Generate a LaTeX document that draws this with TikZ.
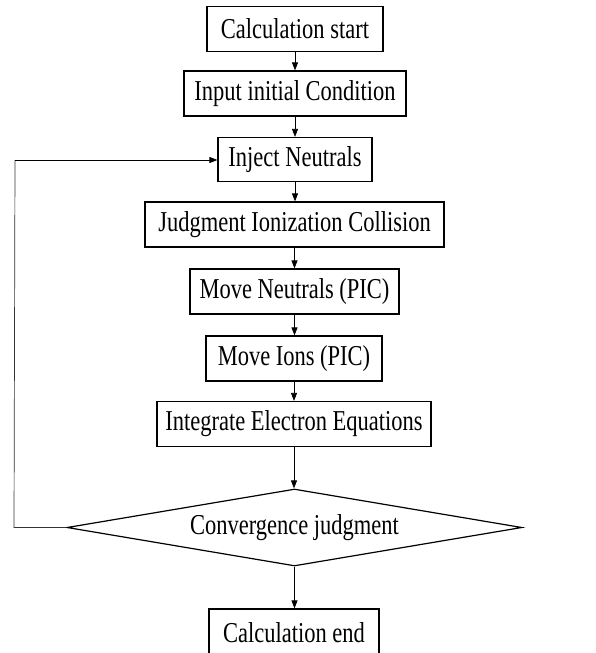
\documentclass[tikz,border=0pt]{standalone}
\usepackage{fontspec}
\setmainfont{Liberation Serif}
\usetikzlibrary{shapes.geometric,arrows.meta}
\tikzset{
  box/.style={draw=black, line width=1.2pt, rectangle, inner sep=0pt, minimum height=45pt,
    font=\fontsize{22.5}{26}\selectfont},
  dia/.style={draw=black, line width=1.2pt, diamond, aspect=5.9, inner sep=0pt,
    minimum width=455pt, minimum height=77pt, font=\fontsize{22.5}{26}\selectfont},
  conn/.style={draw=black, line width=0.7pt, -{Triangle[length=8pt,width=6pt]}},
  loopline/.style={draw=black!80, line width=0.7pt}
}
\newcommand{\vst}[1]{\scalebox{1}[1.28]{#1}}
\begin{document}
\begin{tikzpicture}[x=1pt,y=-1pt]
\useasboundingbox (0,0) rectangle (595,653);
\node[box, minimum width=176pt] (b1) at (295,29) {\vst{Calculation start}};
\node[box, minimum width=222pt] (b2) at (295,93.5) {\vst{Input initial Condition}};
\node[box, minimum width=154pt, minimum height=44pt] (b3) at (295,159.5) {\vst{Inject Neutrals}};
\node[box, minimum width=299pt] (b4) at (294.5,224.5) {\vst{Judgment Ionization Collision}};
\node[box, minimum width=209pt] (b5) at (294.5,291.5) {\vst{Move Neutrals (PIC)}};
\node[box, minimum width=176pt] (b6) at (294,358.5) {\vst{Move Ions (PIC)}};
\node[box, minimum width=274pt] (b7) at (294,424) {\vst{Integrate Electron Equations}};
\node[dia] (d) at (294.5,527.5) {\vst{Convergence judgment}};
\node[box, minimum width=170pt, minimum height=48pt] (b8) at (294,633) {\vst{Calculation end}};
\coordinate (c1) at (14,527.5);
\coordinate (c2) at (15,160);
\draw[conn] (b1.south) -- (b2.north);
\draw[conn] (b2.south) -- (b3.north);
\draw[conn] (b3.south) -- (b3.south |- b4.north);
\draw[conn] (b4.south) -- (b4.south |- b5.north);
\draw[conn] (b5.south) -- (b5.south |- b6.north);
\draw[conn] (b6.south) -- (b6.south |- b7.north);
\draw[conn] (b7.south) -- (b7.south |- d.north);
\draw[conn] (d.south) -- (d.south |- b8.north);
\draw[loopline] (d.west) -- (c1) -- (c2);
\draw[conn] (c2) -- (c2 -| b3.west);
\end{tikzpicture}
\end{document}
